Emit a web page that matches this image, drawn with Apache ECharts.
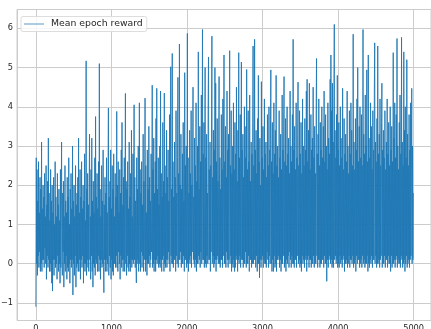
<!DOCTYPE html>
<html>
<head>
<meta charset="utf-8">
<script src="https://cdn.jsdelivr.net/npm/echarts@6/dist/echarts.min.js"></script>
<style>
  html, body { margin: 0; padding: 0; background: #ffffff; }
  #chart { width: 431px; height: 329px; }
</style>
</head>
<body>
<div id="chart"></div>
<script>
// Mean reward per epoch, one sample every EPOCH_STEP epochs (epoch 0 .. 4995)
const EPOCH_STEP = 5;
const rewards = [
  -1.1, 2.7, 0.0, 2.4, -0.3, 1.6, 0.2, 2.6, -0.1, 1.3, 0.3, 2.2, -0.2, 1.9, 0.0, 3.1, -0.2, 1.4, 0.1, 2.0,
  0.1, 1.7, -0.1, 2.3, 0.4, 1.2, 0.0, 2.5, -0.4, 1.5, 0.2, 2.1, -0.1, 3.2, 0.1, 1.8, -0.2, 1.1, 0.0, 2.4,
  -0.2, 1.6, -0.5, 2.0, -0.7, 1.3, 0.1, 2.2, -0.3, 1.0, 0.1, 2.6, -0.1, 1.7, 0.0, 1.2, -0.4, 2.3, 0.2, 1.5,
  -0.2, 1.9, 0.0, 1.1, -0.5, 2.4, -0.1, 1.4, 3.1, 0.1, -0.3, 1.8, 0.3, 2.1, -0.6, 1.2, 0.0, 2.5, -0.2, 1.6,
  0.2, 1.3, -0.4, 2.2, -0.1, 1.7, -0.2, 2.7, 0.0, 1.0, -0.5, 1.9, 0.1, 2.3, -0.1, 1.4, 0.1, 3.0, -0.8, 1.6,
  0.0, 2.0, -0.3, 1.2, 0.2, 2.5, -0.6, 1.5, -0.1, 1.8, 0.0, 2.2, -0.2, 3.2, -0.2, 1.3, 0.1, 2.4, -0.4, 1.7,
  0.1, 2.6, -0.1, 1.4, 0.2, 2.0, -0.5, 1.6, 0.0, 2.8, -0.2, 1.1, 0.0, 5.17, -0.3, 1.9, 0.1, 2.3, -0.1, 1.5,
  -0.2, 1.8, 3.3, 0.1, 1.2, -0.4, 2.4, 0.2, 3.2, -0.2, 1.6, -0.6, 2.1, 0.0, 1.3, -0.1, 2.7, -0.3, 3.75, 0.1,
  1.7, 0.0, 2.3, -0.2, 1.4, 0.2, 2.6, -0.2, 5.1, 0.1, 1.9, -0.4, 1.2, 0.1, 2.5, -0.1, 1.6, 0.0, 2.9, -0.1,
  -0.74, 1.5, 0.1, 2.2, -0.2, 1.8, 0.1, 2.7, -0.2, 1.3, 0.0, 2.4, 3.97, -0.3, 1.7, 0.2, 2.1, -0.1, 2.9, -0.4,
  1.4, 0.1, 2.5, -0.2, 1.9, -0.3, 2.8, 0.0, 1.2, 0.0, 2.3, -0.1, 1.7, 0.2, 3.88, -0.1, 2.0, -0.2, 2.6, 0.3,
  1.3, 0.0, 2.4, -0.4, 1.8, 0.2, 2.9, -0.1, 3.6, 0.1, 1.5, -0.2, 2.2, 0.1, 2.7, -0.2, 1.6, 4.34, 0.0, 2.1,
  -0.3, 1.9, 0.2, 2.6, -0.1, 1.4, -0.2, 3.1, 0.0, 1.7, -0.2, 2.3, 0.1, 3.4, -0.1, 1.2, 0.1, 2.8, 0.0, 1.8,
  4.05, 0.1, 2.2, -0.1, 1.6, 0.2, -0.49, 2.7, 0.0, 1.9, 0.1, 3.0, -0.2, 1.4, 4.1, 0.0, 2.4, -0.2, 1.8, 0.3,
  2.6, -0.1, 1.5, 0.2, 3.3, -0.2, 2.1, 0.1, 1.7, 4.22, -0.2, 2.5, 0.1, 1.3, -0.3, 2.9, 0.0, 1.9, 0.0, 3.5,
  0.2, 2.2, -0.1, 1.6, 0.1, 2.8, 0.3, 1.4, 4.55, -0.1, 2.4, 0.0, 3.2, -0.2, 1.8, 0.1, 2.6, -0.2, 3.7, 0.1,
  4.47, 0.0, 1.9, 0.2, 2.7, -0.1, 1.5, 0.0, 3.0, -0.1, 4.4, 0.1, 2.3, -0.2, 1.7, 0.1, 3.6, 0.2, 2.1, -0.2,
  4.35, 0.0, 2.5, -0.1, 1.8, 0.1, 3.4, -0.1, 2.2, 0.1, 2.9, 0.3, 1.6, 0.0, 3.8, -0.2, 2.4, 5.02, 0.2, 1.9,
  0.0, 5.36, 0.0, 2.6, -0.1, 1.7, 0.1, 3.1, 0.1, 2.2, -0.2, 3.9, 0.2, 1.8, 0.0, 2.7, 4.75, -0.1, 2.3, 0.1,
  5.6, 0.1, 2.0, 0.3, 3.3, -0.1, 1.9, 0.0, 2.8, 0.0, 3.6, 0.2, 1.6, -0.2, 4.87, 0.1, 2.5, 0.1, 3.0, -0.1,
  2.2, 5.87, 0.0, 2.7, -0.2, 1.8, 0.1, 3.4, 0.0, 2.3, 0.2, 3.9, -0.1, 2.0, 0.3, 2.9, 4.5, 0.1, 1.7, 0.0,
  3.2, -0.1, 2.5, 0.1, 4.1, -0.2, 2.1, 0.0, 3.0, 0.0, 5.4, 0.2, 1.9, 0.1, 3.5, -0.1, 2.6, 0.3, 4.3, 0.0,
  2.0, 5.97, 0.1, 2.8, 0.1, 3.6, -0.1, 2.3, 5.0, 0.0, 2.7, -0.1, 3.3, 0.2, 1.8, 0.0, 3.9, 5.27, 0.1, 2.4,
  0.1, 3.1, -0.2, 2.5, 0.3, 4.0, 5.8, 0.0, 2.2, 0.2, 3.4, -0.1, 2.9, 0.0, 5.0, 0.1, 4.6, -0.2, 2.6, 0.1,
  3.7, 0.2, 2.1, 0.0, 3.2, 4.77, 0.0, 2.7, -0.1, 1.9, 0.1, 3.8, 0.1, 2.4, -0.1, 4.2, 0.2, 2.8, 5.32, 0.0,
  2.6, 0.0, 3.5, -0.1, 2.2, 0.3, 4.4, 0.1, 2.9, -0.1, 3.3, 0.1, 2.0, 5.43, 0.0, 2.5, 0.2, 3.9, -0.2, 2.3,
  0.0, 3.0, -0.1, 4.1, 0.1, 2.4, -0.2, 3.6, -0.1, 2.8, 0.2, 4.5, 0.1, 2.1, -0.2, 3.4, 0.1, 5.38, 0.0, 2.7,
  0.2, 3.8, -0.1, 2.5, 5.14, 0.1, 2.9, 0.1, 3.3, -0.1, 2.2, 0.0, 4.0, 0.0, 2.7, 0.3, 3.5, -0.1, 4.95, 0.0,
  2.4, 0.0, 3.9, 0.2, 2.6, -0.2, 4.3, 0.1, 2.1, 0.1, 3.1, -0.1, 2.8, 0.0, 3.6, 5.55, 0.0, 2.5, 0.1, 5.72,
  0.1, 2.9, -0.1, 3.4, 0.2, 2.3, -0.2, 3.7, 0.0, 4.8, 0.0, 2.6, -0.36, 3.2, 0.1, 2.0, -0.1, 4.64, 0.1, 2.7,
  0.2, 3.5, -0.1, 2.4, 0.1, 4.2, 0.0, 2.8, 0.0, 3.1, -0.1, 2.2, 0.3, 3.8, 0.1, 2.5, -0.1, 4.0, 0.2, 2.9,
  0.0, 3.3, 4.94, 0.0, 2.6, -0.2, 3.6, 0.1, 2.3, -0.2, 4.1, 0.2, 2.8, -0.1, 3.4, 0.0, 4.8, -0.2, 2.5, 0.1,
  3.0, 0.1, 2.2, 0.2, 3.9, -0.1, 2.7, 0.1, 3.3, -0.2, 2.4, 0.0, 4.3, 0.0, 2.9, 0.2, 3.5, 4.77, -0.1, 2.6,
  0.0, 3.7, -0.2, 2.5, 0.1, 4.0, 0.0, 2.8, 0.2, 3.2, -0.1, 2.3, 0.3, 4.4, 0.1, 3.0, -0.1, 2.6, 0.2, 3.8,
  0.0, 5.72, 0.0, 2.9, -0.1, 3.5, 0.1, 2.4, 0.1, 4.1, -0.1, 2.7, 0.2, 3.3, 4.63, 0.0, 2.5, 0.1, 3.9, -0.1,
  2.8, 0.0, 3.6, -0.2, 2.3, 0.2, 4.2, 0.0, 3.0, 0.1, 2.5, -0.1, 3.7, 0.1, 2.9, 0.2, 4.4, -0.2, 4.7, 0.1,
  2.6, 0.2, 3.4, -0.1, 4.6, 0.1, 2.4, 0.1, 3.8, -0.1, 2.9, 0.0, 3.2, 0.0, 4.5, 0.2, 2.7, -0.1, 3.5, 0.0,
  2.3, 0.0, 3.9, 5.23, 0.2, 2.8, -0.1, 3.3, 0.1, 4.2, 0.1, 2.5, -0.1, 3.6, 0.0, 2.9, 0.0, 4.0, 0.1, 2.7,
  0.1, 3.5, -0.1, 4.4, 0.2, 2.6, 0.0, 3.8, 0.0, 3.0, -0.45, 2.4, 0.1, 4.1, -0.1, 3.2, 0.1, 2.8, 0.2, 4.7,
  0.0, 5.32, 0.1, 3.9, -0.1, 4.6, 0.0, 3.1, -0.1, 4.3, 6.1, 0.1, 3.4, 0.2, 2.7, 0.0, 3.8, 0.1, 4.8, -0.1,
  2.9, 0.0, 3.6, -0.1, 2.5, 0.2, 4.0, 0.0, 3.2, 0.1, 2.7, -0.1, 4.47, 0.1, 2.4, 0.2, 3.7, -0.2, 2.8, 0.0,
  3.3, 0.0, 2.6, 0.1, 4.4, -0.1, 3.0, 0.0, 2.3, 0.2, 3.9, -0.1, 2.8, 0.1, 4.1, 0.1, 3.4, 0.0, 2.5, 0.2,
  5.85, -0.1, 3.1, 0.0, 2.4, 0.1, 3.7, -0.2, 2.9, 0.2, 4.2, 0.0, 5.0, 0.1, 2.6, 0.1, 3.5, -0.1, 4.0, 0.0,
  2.7, 0.1, 3.8, -0.1, 2.5, 0.2, 5.97, 0.0, 3.3, 0.1, 2.8, -0.1, 4.3, 0.0, 3.0, 0.0, 4.94, 0.2, 2.6, -0.2,
  5.32, 0.0, 3.2, -0.1, 2.7, 0.1, 4.1, 0.0, 3.5, 0.2, 2.4, -0.1, 3.9, 0.1, 2.9, 0.1, 4.4, 5.63, 0.0, 3.1,
  0.2, 2.6, -0.1, 3.7, 0.0, 5.55, 0.0, 2.8, 0.1, 3.3, -0.1, 4.2, 0.1, 2.5, 0.2, 3.6, 4.6, -0.1, 2.9, 0.0,
  3.4, 0.0, 2.7, 0.2, 3.9, -0.1, 2.4, 0.1, 3.1, 0.1, 4.2, -0.1, 2.8, 0.2, 3.6, 0.0, 2.5, 0.0, 4.0, -0.2,
  2.9, 0.2, 3.5, -0.1, 2.6, 0.0, 5.38, 0.0, 3.2, 0.1, 4.1, -0.1, 2.7, 0.1, 3.8, 0.2, 5.74, -0.1, 3.0, 0.0,
  2.4, 0.1, 3.6, 0.0, 4.3, -0.1, 2.8, 0.2, 5.77, 0.1, 3.1, -0.1, 2.5, 0.0, 5.4, 0.1, 3.4, -0.2, 4.0, 0.0,
  2.7, 0.2, 5.2, -0.1, 3.3, 0.0, 2.5, 0.1, 3.8, -0.1, 2.9, 0.1, 4.1, 0.2, 2.4, 4.47, 0.0, 3.0, 0.1, 1.8
];

// Axis layout: tick positions and the visible value window
const xTicks = [0, 1000, 2000, 3000, 4000, 5000];
const yTicks = [-1, 0, 1, 2, 3, 4, 5, 6];
const xRange = [-250, 5230];
const yRange = [-1.45, 6.48];

const seriesData = rewards.map((r, i) => [i * EPOCH_STEP, r]);

const TEXT = '#262626';
const GRID = '#cccccc';
const FONT = 'DejaVu Sans';
const minus = v => String(v).replace('-', '\u2212');

const chart = echarts.init(document.getElementById('chart'), null, { renderer: 'canvas' });
chart.setOption({
  animation: false,
  backgroundColor: '#ffffff',
  grid: {
    left: 17, right: 0, top: 9.5, bottom: 8.5,
    outerBoundsMode: 'none',
    containLabel: false,
    show: true, borderColor: GRID, borderWidth: 1, backgroundColor: 'transparent'
  },
  legend: {
    left: 21, top: 16.5,
    padding: [3, 4, 3, 3],
    backgroundColor: 'rgba(255,255,255,0.8)',
    borderColor: '#dddddd', borderWidth: 1, borderRadius: 2,
    icon: 'rect', itemWidth: 20, itemHeight: 1.5,
    itemStyle: { color: 'rgba(31,119,180,0.5)', borderWidth: 0 },
    textStyle: { color: TEXT, fontFamily: FONT, fontSize: 9.3, padding: [0, 0, 0, 2] },
    data: ['Mean epoch reward']
  },
  xAxis: {
    type: 'value',
    min: xRange[0], max: xRange[1],
    splitNumber: 5,
    axisLine: { show: false },
    axisTick: { show: true, length: 3, lineStyle: { color: GRID } },
    axisLabel: {
      color: TEXT, fontFamily: FONT, fontSize: 8.2, margin: 4,
      showMinLabel: false, showMaxLabel: false,
      formatter: v => xTicks.includes(v) ? minus(v) : ''
    },
    splitLine: { show: true, lineStyle: { color: GRID, width: 1 } }
  },
  yAxis: {
    type: 'value',
    min: yRange[0], max: yRange[1],
    splitNumber: 8,
    axisLine: { show: false },
    axisTick: { show: true, length: 3, lineStyle: { color: GRID } },
    axisLabel: {
      color: TEXT, fontFamily: FONT, fontSize: 8.2, margin: 4,
      showMinLabel: false, showMaxLabel: false,
      formatter: v => yTicks.includes(v) ? minus(v) : ''
    },
    splitLine: { show: true, lineStyle: { color: GRID, width: 1 } }
  },
  series: [{
    name: 'Mean epoch reward',
    type: 'line',
    data: seriesData,
    showSymbol: false,
    symbol: 'none',
    sampling: null,
    silent: true,
    lineStyle: { color: '#1f77b4', width: 1, opacity: 0.88 },
    itemStyle: { color: '#1f77b4' }
  }]
});
</script>
</body>
</html>
